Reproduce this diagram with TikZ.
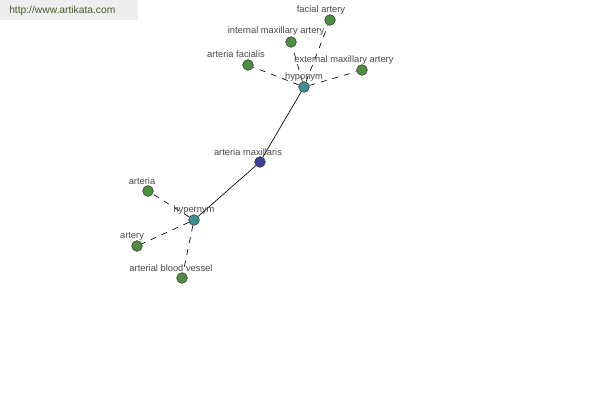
\documentclass[tikz,border=0pt]{standalone}
\usepackage{fontspec}
\setmainfont{Liberation Sans}
\definecolor{leafgreen}{HTML}{4A9040}
\definecolor{relteal}{HTML}{3C9090}
\definecolor{rootblue}{HTML}{3E3E96}
\definecolor{labelgray}{HTML}{484848}
\definecolor{markgray}{HTML}{EEEEEE}
\definecolor{markgreen}{HTML}{4A5A2A}
\tikzset{
  dot/.style={circle, draw=black!80, line width=0.4pt, minimum size=8pt, inner sep=0pt},
  leaf/.style={dot, fill=leafgreen},
  rel/.style={dot, fill=relteal},
  root/.style={dot, fill=rootblue},
  lbl/.style={text=labelgray, font=\fontsize{7}{8}\selectfont, inner sep=0pt},
  link/.style={line width=0.5pt},
  dashlink/.style={link, dash pattern=on 4.5pt off 4.5pt}
}
\begin{document}
\begin{tikzpicture}[x=0.75pt, y=-0.75pt]

\useasboundingbox (0,0) rectangle (600,400);
\fill[markgray] (0,0) rectangle (138,20);
\node[text=markgreen, font=\fontsize{7.7}{9}\selectfont, anchor=west, inner sep=0pt] (mark) at (9,11) {http://www.artikata.com};

\node[root] (maxillaris) at (260,162) {};
\node[rel] (hyponym) at (304,87) {};
\node[rel] (hypernym) at (194,220) {};

\node[leaf] (facial) at (330,20) {};
\node[leaf] (internal) at (291,42) {};
\node[leaf] (facialis) at (248,65) {};
\node[leaf] (external) at (362,70) {};
\node[leaf] (arteria) at (148,191) {};
\node[leaf] (artery) at (137,246) {};
\node[leaf] (vessel) at (182,278) {};

\draw[link] (maxillaris) -- (hyponym);
\draw[link] (maxillaris) -- (hypernym);
\draw[dashlink] (hyponym) -- (facial);
\draw[dashlink] (hyponym) -- (internal);
\draw[dashlink] (hyponym) -- (facialis);
\draw[dashlink] (hyponym) -- (external);
\draw[dashlink] (hypernym) -- (arteria);
\draw[dashlink] (hypernym) -- (artery);
\draw[dashlink] (hypernym) -- (vessel);

\node[lbl] (facialtext) at (321,10) {facial artery};
\node[lbl] (internaltext) at (276,31) {internal maxillary artery};
\node[lbl] (facialistext) at (236,54) {arteria facialis};
\node[lbl] (externaltext) at (344,60) {external maxillary artery};
\node[lbl] (hypotext) at (304,77) {hyponym};
\node[lbl] (maxtext) at (248,152) {arteria maxillaris};
\node[lbl] (arteriatext) at (142,181) {arteria};
\node[lbl] (hypertext) at (194,210) {hypernym};
\node[lbl] (arterytext) at (132,236) {artery};
\node[lbl] (vesseltext) at (171,268) {arterial blood vessel};

\end{tikzpicture}
\end{document}
